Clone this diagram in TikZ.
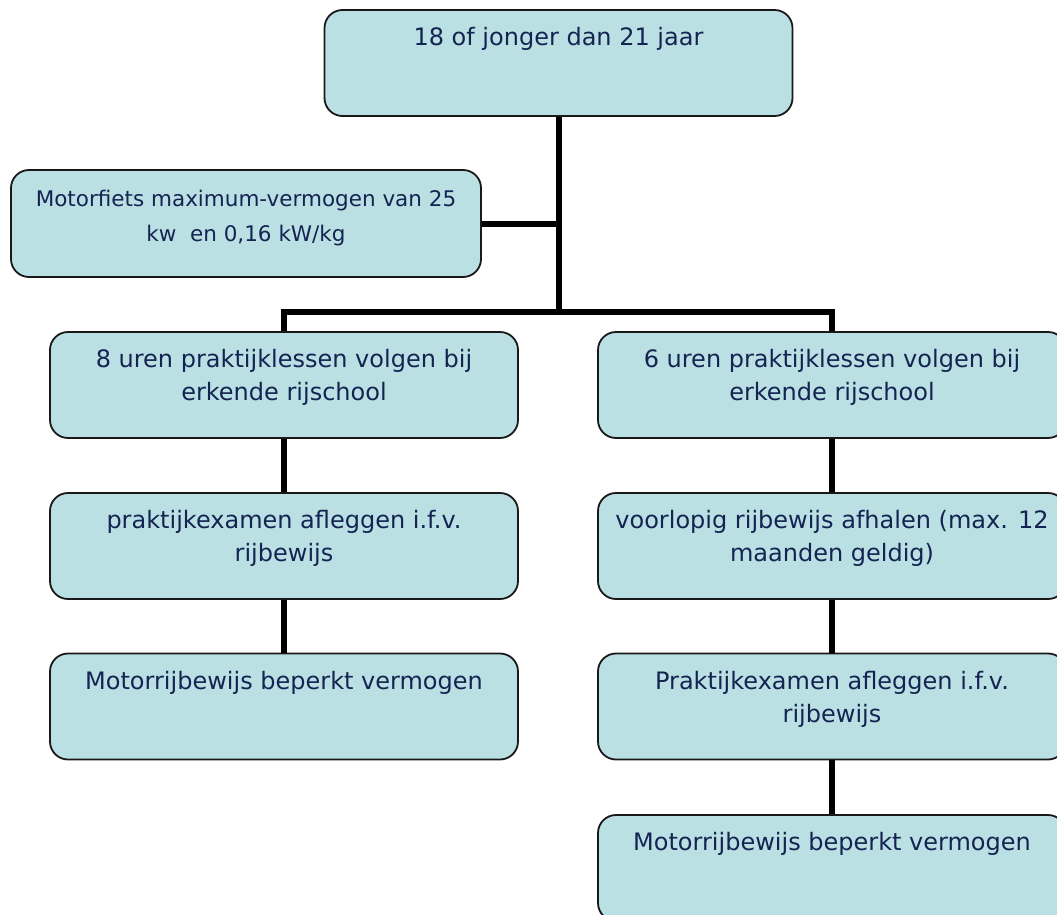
\documentclass[tikz,border=0pt]{standalone}
\usepackage{fontspec}
\setmainfont{DejaVu Sans}
\definecolor{boxblauw}{RGB}{187,224,227}
\definecolor{tekstblauw}{RGB}{20,36,82}
\newcommand{\vak}[2][24]{\parbox[c][106pt][t]{468pt}{\centering\fontsize{#1}{33}\selectfont\vspace*{12.5pt}\strut #2}}
\begin{document}
\begin{tikzpicture}[x=1pt, y=-1pt,
    stap/.style={draw=black!90, line width=1.8pt, fill=boxblauw, text=tekstblauw,
      rounded corners=18pt, minimum width=468pt, minimum height=106pt, inner sep=0pt},
    tak/.style={line width=6pt}]
  \useasboundingbox (0,0) rectangle (1057,915);
  % bovenaan
  \node[stap] (leeftijd) at (558.5,63) {\vak{18 of jonger dan 21 jaar}};
  \node[stap, minimum width=470pt, minimum height=107pt] (motor) at (246,223.5)
    {\vak[21.5]{Motorfiets maximum-vermogen van 25\\[2pt]kw~~en 0,16 kW/kg}};
  % linker tak
  \node[stap] (acht) at (284,385) {\vak{8 uren praktijklessen volgen bij\\erkende rijschool}};
  \node[stap] (examenL) at (284,546) {\vak{praktijkexamen afleggen i.f.v.\\rijbewijs}};
  \node[stap] (rijbewijsL) at (284,706.5) {\vak{Motorrijbewijs beperkt vermogen}};
  % rechter tak
  \node[stap] (zes) at (832,385) {\vak{6 uren praktijklessen volgen bij\\erkende rijschool}};
  \node[stap] (voorlopig) at (832,546) {\vak{voorlopig rijbewijs afhalen (max. 12\\maanden geldig)}};
  \node[stap] (examenR) at (832,706.5) {\vak{Praktijkexamen afleggen i.f.v.\\rijbewijs}};
  \node[stap] (rijbewijsR) at (832,868) {\vak{Motorrijbewijs beperkt vermogen}};
  % verbindingen
  \coordinate (split) at (558.5,312);
  \draw[tak] (leeftijd) -- (split);
  \draw[tak] (motor) -- (motor -| split);
  \draw[tak] (acht) |- (split) -| (zes);
  \draw[tak] (acht) -- (examenL);
  \draw[tak] (examenL) -- (rijbewijsL);
  \draw[tak] (zes) -- (voorlopig);
  \draw[tak] (voorlopig) -- (examenR);
  \draw[tak] (examenR) -- (rijbewijsR);
\end{tikzpicture}
\end{document}
